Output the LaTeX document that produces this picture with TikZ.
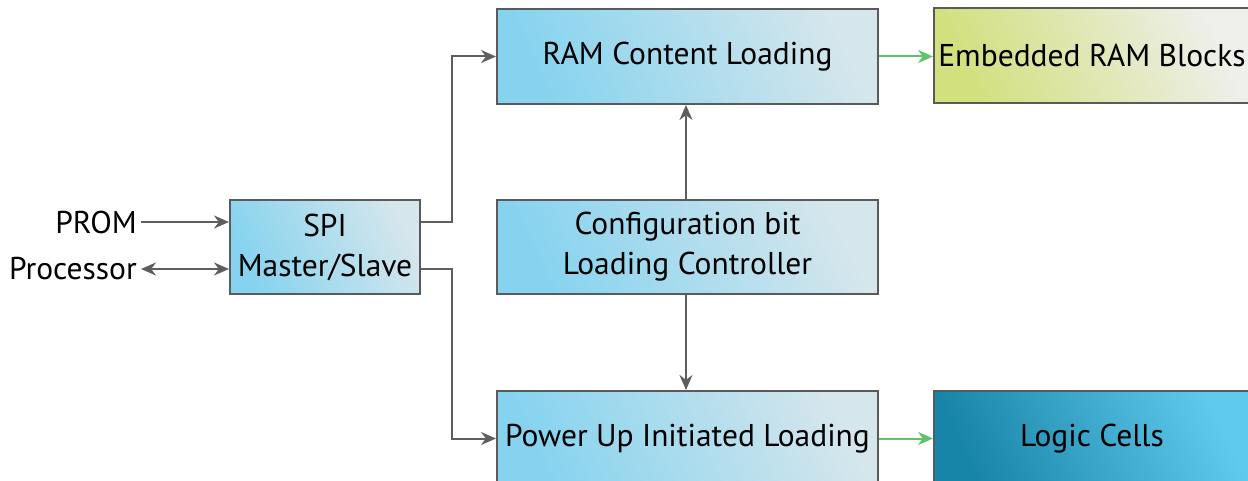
\documentclass[tikz,border=0pt]{standalone}
\usepackage{fontspec}
\setmainfont{PT Sans}
\usetikzlibrary{arrows.meta,calc}
\definecolor{bgray}{HTML}{5A5A5A}
\definecolor{lgray}{HTML}{5E5E5E}
\definecolor{blueA}{HTML}{86D3EF}
\definecolor{blueB}{HTML}{D5E6EC}
\definecolor{yelA}{HTML}{D2E07E}
\definecolor{yelB}{HTML}{EFEFEC}
\definecolor{logA}{HTML}{1785A8}
\definecolor{logB}{HTML}{60C9EE}
\definecolor{grn}{HTML}{5CC56A}
\tikzset{
  box/.style={draw=bgray, line width=2pt, anchor=north west, inner sep=0pt,
    align=center, font=\fontsize{31.5}{40}\selectfont,
    left color=blueA, right color=blueB, shading angle=115},
  yelbox/.style={box, left color=yelA, right color=yelB, shading angle=115},
  logbox/.style={box, left color=logA, right color=logB, shading angle=115},
  lbl/.style={anchor=east, inner sep=4pt, font=\fontsize{31.5}{40}\selectfont},
  conn/.style={draw=lgray, line width=2pt, -{Stealth[length=15pt,width=13pt]}},
  gconn/.style={draw=grn, line width=2pt, -{Stealth[length=15pt,width=13pt]}}
}
\begin{document}
\begin{tikzpicture}[x=1pt,y=-1pt]
\useasboundingbox (0,0) rectangle (1248,481);
\clip (0,0) rectangle (1248,481);
\node[box, minimum width=190pt, minimum height=94pt] (spi) at (229,199) {SPI\\Master/Slave};
\node[box, minimum width=381pt, minimum height=95pt] (ram) at (496,8) {RAM Content Loading};
\node[box, minimum width=381pt, minimum height=94pt] (cfg) at (496,199) {Configuration bit\\Loading Controller};
\node[box, minimum width=381pt, minimum height=95pt] (pwr) at (496,390) {Power Up Initiated Loading};
\node[yelbox, minimum width=316pt, minimum height=95pt] (emb) at (933,7) {Embedded RAM Blocks};
\node[logbox, minimum width=316pt, minimum height=95pt] (log) at (933,390) {Logic Cells};
\node[lbl] (prom) at (141,222) {PROM};
\node[lbl] (proc) at (141,269) {Processor};
\draw[conn] (prom.east) -- (prom.east -| spi.west);
\draw[conn, {Stealth[length=15pt,width=13pt]}-{Stealth[length=15pt,width=13pt]}] (proc.east) -- (proc.east -| spi.west);
\coordinate (j1) at (452,222);
\coordinate (j2) at (452,269);
\draw[conn] (j1 -| spi.east) -- (j1) |- (ram.west);
\draw[conn] (j2 -| spi.east) -- (j2) |- (pwr.west);
\draw[conn] (cfg.north -| 686,0) -- (ram.south -| 686,0);
\draw[conn] (cfg.south -| 686,0) -- (pwr.north -| 686,0);
\draw[gconn] (ram.east) -- (ram.east -| emb.west);
\draw[gconn] (pwr.east) -- (pwr.east -| log.west);
\end{tikzpicture}
\end{document}
